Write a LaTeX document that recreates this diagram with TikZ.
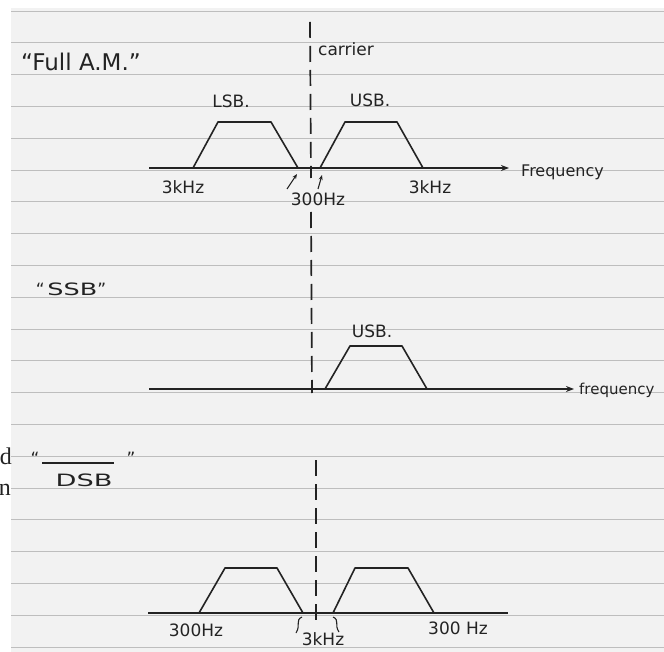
\documentclass[tikz,border=0pt]{standalone}
\usepackage{fontspec}
\setmainfont{DejaVu Sans}
\newfontfamily\cutserif{Liberation Serif}
\usepackage{xcolor}
\usetikzlibrary{arrows.meta,calc,positioning}
\definecolor{ink}{HTML}{232323}
\definecolor{rule}{HTML}{BEBEBE}
\definecolor{paper}{HTML}{F2F2F2}
\newcommand{\handsize}[1]{\fontsize{#1}{#1}\selectfont}

\begin{document}
\begin{tikzpicture}[x=1pt,y=-1pt]
	\tikzstyle{every node}=[font=\handsize{17}, text=ink, inner sep=0pt]
	\tikzstyle{pen}=[line width=1.6pt, draw=ink, line join=round]
	\tikzstyle{carrierline}=[line width=1.7pt, draw=ink, dash pattern=on 16pt off 8pt]
	\tikzstyle{ruled}=[line width=0.7pt, draw=rule]
	\tikzstyle{pointer}=[line width=1.1pt, draw=ink, -{Stealth[length=5pt,width=4pt]}]
	\useasboundingbox (0,0) rectangle (664,652);
	% paper
	\fill[paper] (11,8) rectangle (664,652);
	\foreach \k in {0,...,20}
		\draw[ruled] (11,{10.9+31.8*\k}) -- (664,{10.9+31.8*\k});
	\node[anchor=east, font=\cutserif\handsize{24}] (cutd) at (12,456) {d};
	\node[anchor=east, font=\cutserif\handsize{24}] (cutn) at (11,490) {n};

	% full A.M.
	\node (fullam) at (81,62) [font=\handsize{23}] {``Full A.M.''};
	\coordinate (carrtop) at (310,22);
	\coordinate (carrmid) at (311,178);
	\draw[carrierline] (carrtop) -- (carrmid);
	\coordinate (carrgo) at (311,212);
	\coordinate (carrbot) at (312,393);
	\draw[carrierline] (carrgo) -- (carrbot);
	\node[anchor=west] (carrier) at (318,49) {carrier};
	\coordinate (axa) at (149,168);
	\coordinate (axb) at (509,168);
	\draw[pen, -{Stealth[length=8pt,width=6pt]}] (axa) -- (axb);
	\node[anchor=west, font=\handsize{16}] (freqa) at (521,172) {Frequency};
	\draw[pen] (193,168) -- (218,122) -- (271,122) -- (298,168);
	\draw[pen] (320,168) -- (345,122) -- (397,122) -- (423,168);
	\node (lsb) at (231,101) {LSB.};
	\node (usba) at (370,100) {USB.};
	\node (khzl) at (183,187) {3kHz};
	\node (khzr) at (430,187) {3kHz};
	\node (hza) at (318,199) {300Hz};
	\coordinate (ptla) at (287,189);
	\coordinate (ptlb) at (297,174);
	\coordinate (ptra) at (318,189);
	\coordinate (ptrb) at (322,175);
	\draw[pointer] (ptla) -- (ptlb);
	\draw[pointer] (ptra) -- (ptrb);

	% SSB
	\node (ssb) at (71,289) {``\,\scalebox{1.5}[1]{SSB}''};
	\coordinate (axc) at (149,389);
	\coordinate (axd) at (574,389);
	\draw[pen, -{Stealth[length=8pt,width=6pt]}] (axc) -- (axd);
	\node[anchor=west, font=\handsize{15}] (freqb) at (579,390) {frequency};
	\draw[pen] (325,389) -- (350,346) -- (402,346) -- (427,389);
	\node (usbb) at (372,331) {USB.};

	% DSB
	\node (dsb) at (84,480) {\scalebox{1.6}[1]{DSB}};
	\node (dsbql) at (35,458) {``};
	\node (dsbqr) at (131,458) {''};
	\draw[pen, line width=1.3pt] (42,463) -- (114,463);
	\coordinate (dsbtop) at (316,460);
	\coordinate (dsbbot) at (316,625);
	\draw[carrierline] (dsbtop) -- (dsbbot);
	\coordinate (axe) at (148,613);
	\coordinate (axf) at (508,613);
	\draw[pen] (axe) -- (axf);
	\draw[pen] (199,613) -- (225,568) -- (277,568) -- (303,613);
	\draw[pen] (333,613) -- (355,568) -- (408,568) -- (434,613);
	\node (hzb) at (196,630) {300Hz};
	\node (khzc) at (323,639) {3kHz};
	\node (hzc) at (458,628) {300 Hz};
	\draw[pen, line width=1.1pt] (302,617) .. controls (295,620) and (301,625) .. (296,633);
	\draw[pen, line width=1.1pt] (333,617) .. controls (340,620) and (334,625) .. (339,632);
\end{tikzpicture}
\end{document}
